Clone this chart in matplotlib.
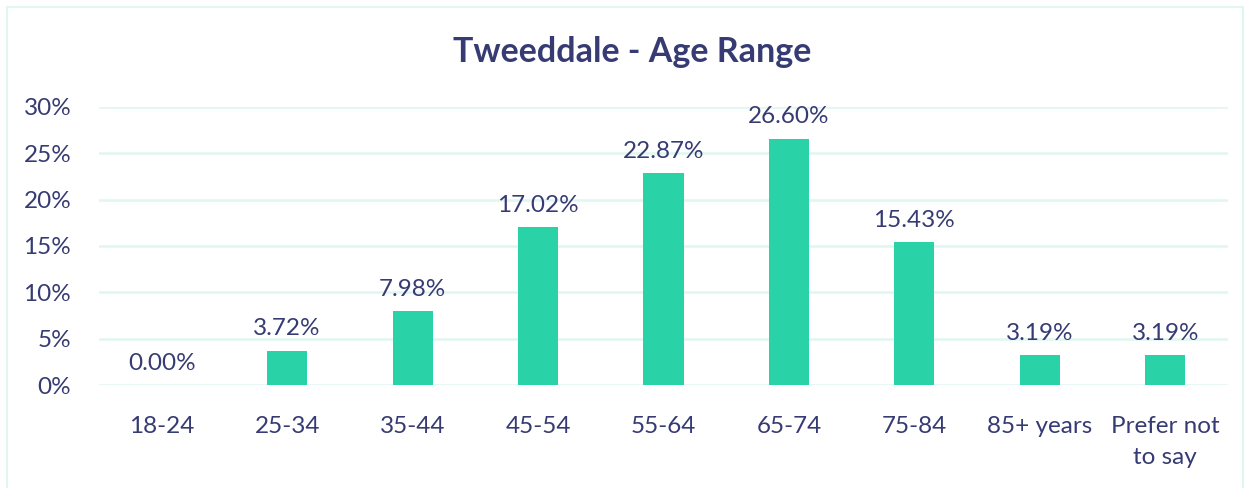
import matplotlib.pyplot as plt
from matplotlib.patches import Rectangle

categories = ['18-24', '25-34', '35-44', '45-54', '55-64', '65-74', '75-84', '85+ years', 'Prefer not\nto say']
values = [0.00, 3.72, 7.98, 17.02, 22.87, 26.60, 15.43, 3.19, 3.19]

text_col = '#363B73'
bar_col = '#2AD2A8'
grid_col = '#E0F7F1'

plt.rcParams['font.family'] = ['Lato', 'DejaVu Sans']

fig = plt.figure(figsize=(12.55, 4.88), dpi=100)
ax = fig.add_axes([99 / 1255, 1 - 385 / 488, 1129 / 1255, 278 / 488])

# рамка вокруг диаграммы
fig.patches.append(Rectangle((7 / 1255, -0.02), 1236 / 1255, 1.02 - 7 / 488,
                             transform=fig.transFigure, fill=False,
                             edgecolor=grid_col, linewidth=1.5))

x = range(len(categories))
ax.bar(x, values, width=0.32, color=bar_col, zorder=3)
for xi, v in zip(x, values):
    ax.text(xi, v + 1.2, f'{v:.2f}%', ha='center', va='bottom',
            fontsize=17.5, color=text_col)

ax.set_xlim(-0.5, len(categories) - 0.5)
ax.set_ylim(0, 30)
ax.set_yticks(range(0, 31, 5))
ax.set_yticklabels([f'{t}%' for t in range(0, 31, 5)])
ax.set_xticks(list(x))
ax.set_xticklabels(categories, linespacing=1.6)
ax.tick_params(axis='both', length=0, labelsize=17.5, labelcolor=text_col)
ax.tick_params(axis='x', pad=22)
ax.tick_params(axis='y', pad=20)
for lab in ax.get_xticklabels():
    lab.set_verticalalignment('top')

ax.grid(axis='y', color=grid_col, linewidth=1.8, zorder=0)
for s in ax.spines.values():
    s.set_visible(False)

fig.text(632 / 1255, 1 - 52 / 488, 'Tweeddale - Age Range', ha='center', va='center',
         fontsize=24.5, fontweight='bold', color=text_col)

fig.savefig('out.png', dpi=100)
